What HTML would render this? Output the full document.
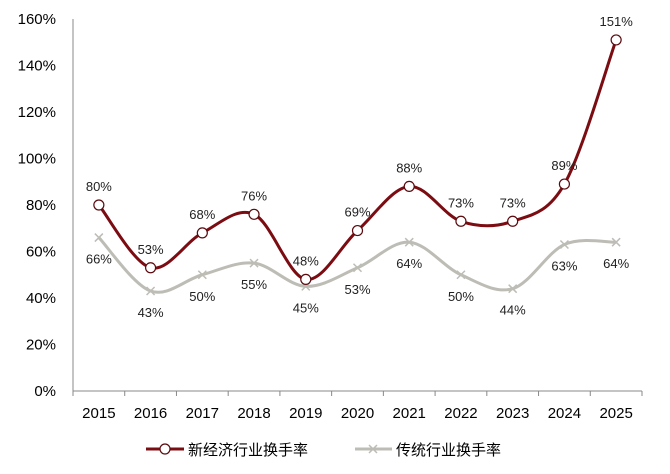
<!DOCTYPE html>
<html><head><meta charset="utf-8"><style>
body{margin:0;background:#fff;}
svg{display:block;font-family:"Liberation Sans","Noto Sans CJK SC",sans-serif;}
</style></head><body>
<svg id="chart" width="670" height="474"></svg>
<script>
const years=["2015","2016","2017","2018","2019","2020","2021","2022","2023","2024","2025"];
const newEcon=[80,53,68,76,48,69,88,73,73,89,151];
const traditional=[66,43,50,55,45,53,64,50,44,63,64];
const yTicks=[0,20,40,60,80,100,120,140,160];
const NS="http://www.w3.org/2000/svg";
const svg=document.getElementById('chart');
const L=73,R=642,T=19,B=391;
const band=(R-L)/years.length;
const x=i=>L+band*(i+0.5);
const y=v=>B-(v/160)*(B-T);
function mk(tag,attrs,parent){const e=document.createElementNS(NS,tag);for(const k in attrs)e.setAttribute(k,attrs[k]);(parent||svg).appendChild(e);return e;}
// y ticks labels
yTicks.forEach(v=>{
 const t=mk('text',{x:56,y:y(v)+5,'text-anchor':'end','font-size':15,fill:'#000'});
 t.textContent=v+'%';
 
 
});
const ax=mk('line',{x1:L,y1:T,x2:L,y2:B,stroke:'#888','stroke-width':1});


const xa=mk('line',{x1:L,y1:B,x2:R,y2:B,stroke:'#888','stroke-width':1});


for(let i=0;i<=years.length;i++){mk('line',{x1:L+band*i,y1:B,x2:L+band*i,y2:B+5,stroke:'#888'});}
years.forEach((yr,i)=>{
 const t=mk('text',{x:x(i),y:418,'text-anchor':'middle','font-size':15,fill:'#000'});
 t.textContent=yr;
 
 
});
function smooth(vals){
 const p=vals.map((v,i)=>[x(i),y(v)]);
 let d='M'+p[0][0]+','+p[0][1];
 for(let i=0;i<p.length-1;i++){
  const p0=p[i-1]||p[i],p1=p[i],p2=p[i+1],p3=p[i+2]||p[i+1];
  const c1=[p1[0]+(p2[0]-p0[0])/6,p1[1]+(p2[1]-p0[1])/6];
  const c2=[p2[0]-(p3[0]-p1[0])/6,p2[1]-(p3[1]-p1[1])/6];
  d+=' C'+c1+' '+c2+' '+p2;
 }
 return d;
}
const gl=mk('path',{d:smooth(traditional),fill:'none',stroke:'#bdbcb5','stroke-width':3});


traditional.forEach((v,i)=>{
 const cx=x(i),cy=y(v);
 const g=mk('path',{d:`M${cx-4},${cy-4}L${cx+4},${cy+4}M${cx-4},${cy+4}L${cx+4},${cy-4}`,stroke:'#bdbcb5','stroke-width':1.5});
 
 
 const t=mk('text',{x:cx,y:cy+26,'text-anchor':'middle','font-size':13,fill:'#222'});
 t.textContent=v+'%';
 
 
});
const rl=mk('path',{d:smooth(newEcon),fill:'none',stroke:'#7b0c12','stroke-width':3});


newEcon.forEach((v,i)=>{
 const cx=x(i),cy=y(v);
 const c=mk('circle',{cx:cx,cy:cy,r:5,fill:'#fff',stroke:'#5a0a0e','stroke-width':1.2});
 
 
 const t=mk('text',{x:cx,y:cy-14,'text-anchor':'middle','font-size':13,fill:'#222'});
 t.textContent=v+'%';
 
 
});
// legend
const lg=mk('g',{});


mk('line',{x1:146,y1:449,x2:184,y2:449,stroke:'#7b0c12','stroke-width':3},lg);
mk('circle',{cx:165,cy:449,r:5,fill:'#fff',stroke:'#5a0a0e','stroke-width':1.2},lg);
const t1=mk('text',{x:188,y:455,'font-size':15,fill:'#000'},lg);
t1.textContent='新经济行业换手率';


mk('line',{x1:355,y1:449,x2:392,y2:449,stroke:'#bdbcb5','stroke-width':3},lg);
mk('path',{d:'M369,445L377,453M369,453L377,445',stroke:'#bdbcb5','stroke-width':1.5},lg);
const t2=mk('text',{x:396,y:455,'font-size':15,fill:'#000'},lg);
t2.textContent='传统行业换手率';


</script>
</body></html>
